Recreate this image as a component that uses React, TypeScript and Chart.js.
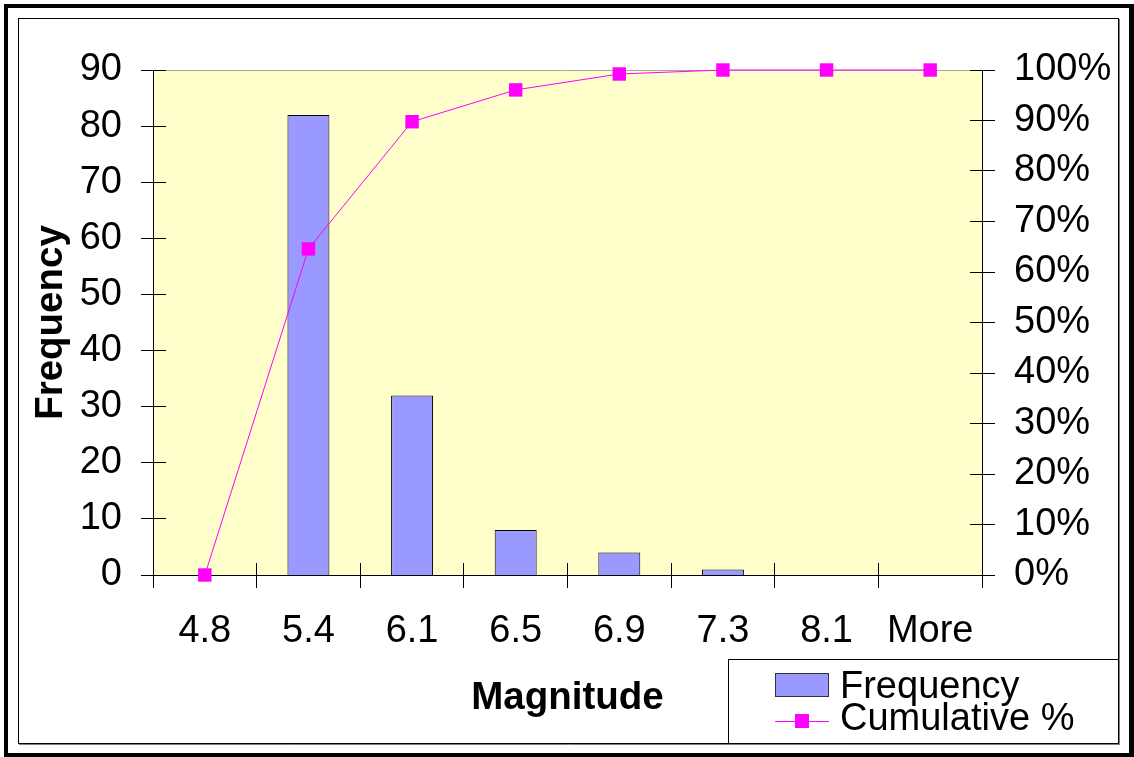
import { useEffect, useRef } from 'react';
import { Chart, registerables } from 'chart.js';

Chart.register(...registerables);

// Histogram bins (upper edges) and counts
const categories = ['4.8', '5.4', '6.1', '6.5', '6.9', '7.3', '8.1', 'More'];
const frequency = [0, 82, 32, 8, 4, 1, 0, 0];
// Running share of all events, in percent
const cumulativePct = [0, 64.57, 89.76, 96.06, 99.21, 100, 100, 100];

const freqAxisMax = 90;
const pctAxisMax = 100;
const axisStep = 10;

const seriesNames = ['Frequency', 'Cumulative %'];
const xTitle = 'Magnitude';
const yTitle = 'Frequency';

const FONT = 'Arial, "Liberation Sans", sans-serif';
const TEXT_SIZE = 38;
const TITLE_SIZE = 38.5;
const W = 1134;
const H = 757;

const crisp = (v: number) => Math.floor(v) + 0.5;

const excelLook = {
  id: 'excelLook',
  beforeDraw(chart: any) {
    const { ctx, chartArea: a } = chart;
    ctx.save();
    ctx.fillStyle = '#ffffff';
    ctx.fillRect(0, 0, chart.width, chart.height);
    ctx.fillStyle = '#FFFFCC';
    ctx.fillRect(a.left, a.top, a.right - a.left, a.bottom - a.top);
    ctx.restore();
  },
  beforeDatasetsDraw(chart: any) {
    const { ctx, chartArea: a, scales } = chart;
    const x = scales.x;
    const y = scales.y;
    const y1 = scales.y1;
    ctx.save();
    ctx.lineWidth = 1;
    // top edge of plot area
    ctx.strokeStyle = '#a8a8a8';
    ctx.beginPath();
    ctx.moveTo(a.left, crisp(a.top));
    ctx.lineTo(a.right, crisp(a.top));
    ctx.stroke();

    ctx.strokeStyle = '#000000';
    ctx.beginPath();
    // axis lines
    ctx.moveTo(crisp(a.left), a.top);
    ctx.lineTo(crisp(a.left), a.bottom);
    ctx.moveTo(crisp(a.right), a.top);
    ctx.lineTo(crisp(a.right), a.bottom);
    ctx.moveTo(a.left - 12, crisp(a.bottom));
    ctx.lineTo(a.right + 13, crisp(a.bottom));
    // left value ticks, crossing the axis
    y.ticks.forEach((t: any) => {
      const py = crisp(y.getPixelForValue(t.value));
      ctx.moveTo(a.left - 12, py);
      ctx.lineTo(a.left + 13, py);
    });
    // right percentage ticks
    y1.ticks.forEach((t: any) => {
      const py = crisp(y1.getPixelForValue(t.value));
      ctx.moveTo(a.right - 12, py);
      ctx.lineTo(a.right + 13, py);
    });
    // category boundary ticks
    const step = x.getPixelForValue(1) - x.getPixelForValue(0);
    for (let i = 0; i <= categories.length; i++) {
      const px = crisp(x.getPixelForValue(i) - step / 2);
      ctx.moveTo(px, a.bottom - 12);
      ctx.lineTo(px, a.bottom + 13);
    }
    ctx.stroke();
    ctx.restore();
  },
  afterDraw(chart: any) {
    const { ctx, chartArea: a } = chart;
    const bar = chart.data.datasets[0];
    const line = chart.data.datasets[1];
    ctx.save();

    // outer heavy frame
    ctx.fillStyle = '#000000';
    ctx.fillRect(4, 4, W - 4, 4);
    ctx.fillRect(4, 4, 4, H - 4);
    ctx.fillRect(W - 5, 4, 5, H - 4);
    ctx.fillRect(4, H - 4, W - 4, 4);

    // inner thin frame with a soft shadow edge
    ctx.lineWidth = 1;
    ctx.strokeStyle = '#000000';
    ctx.strokeRect(18.5, 18.5, 1100, 725);
    ctx.strokeStyle = '#808080';
    ctx.beginPath();
    ctx.moveTo(19, 744.5);
    ctx.lineTo(1120, 744.5);
    ctx.moveTo(1119.5, 19);
    ctx.lineTo(1119.5, 745);
    ctx.stroke();

    // axis titles
    ctx.fillStyle = '#000000';
    ctx.font = `bold ${TITLE_SIZE}px ${FONT}`;
    ctx.textAlign = 'center';
    ctx.textBaseline = 'alphabetic';
    ctx.fillText(xTitle, (a.left + a.right) / 2, 709);
    ctx.save();
    ctx.translate(62, (a.top + a.bottom) / 2);
    ctx.rotate(-Math.PI / 2);
    ctx.fillText(yTitle, 0, 0);
    ctx.restore();

    // legend box
    ctx.fillStyle = '#ffffff';
    ctx.fillRect(728.5, 659.5, 390, 84);
    ctx.strokeStyle = '#000000';
    ctx.strokeRect(728.5, 659.5, 390, 84);

    ctx.fillStyle = bar.backgroundColor;
    ctx.fillRect(775, 673, 54, 24);
    ctx.strokeStyle = '#333333';
    ctx.strokeRect(775.5, 673.5, 53, 23);

    ctx.strokeStyle = line.borderColor;
    ctx.beginPath();
    ctx.moveTo(775, 721.5);
    ctx.lineTo(829, 721.5);
    ctx.stroke();
    ctx.fillStyle = line.pointBackgroundColor;
    ctx.fillRect(795, 714, 14, 14);

    ctx.fillStyle = '#000000';
    ctx.font = `${TEXT_SIZE}px ${FONT}`;
    ctx.textAlign = 'left';
    ctx.fillText(seriesNames[0], 840, 698);
    ctx.fillText(seriesNames[1], 840, 730);
    ctx.restore();
  },
};

export default function App() {
  const ref = useRef<HTMLCanvasElement | null>(null);

  useEffect(() => {
    if (!ref.current) return;
    const chart = new Chart(ref.current, {
      type: 'bar',
      data: {
        labels: categories,
        datasets: [
          {
            type: 'bar',
            label: seriesNames[0],
            data: frequency,
            yAxisID: 'y',
            backgroundColor: '#9999FF',
            borderColor: '#000000',
            borderWidth: 1,
            categoryPercentage: 1,
            barPercentage: 0.405,
            order: 2,
          },
          {
            type: 'line',
            label: seriesNames[1],
            data: cumulativePct,
            yAxisID: 'y1',
            borderColor: '#FF00FF',
            borderWidth: 1,
            backgroundColor: '#FF00FF',
            pointBackgroundColor: '#FF00FF',
            pointBorderColor: '#FF00FF',
            pointBorderWidth: 0,
            pointStyle: 'rect',
            pointRadius: 9.5,
            tension: 0,
            clip: false,
            order: 1,
          },
        ],
      } as any,
      options: {
        responsive: false,
        animation: false,
        devicePixelRatio: 1,
        layout: { padding: { left: 0, right: 0, top: 70, bottom: 0 } },
        plugins: {
          legend: { display: false },
          tooltip: { enabled: false },
          title: { display: false },
        },
        scales: {
          x: {
            type: 'category',
            offset: true,
            grid: { display: false, drawTicks: false },
            border: { display: false },
            ticks: {
              color: '#000000',
              font: { family: FONT, size: TEXT_SIZE },
              padding: 34,
              maxRotation: 0,
              autoSkip: false,
            },
            afterFit(scale: any) {
              scale.height = H - 575;
            },
          },
          y: {
            position: 'left',
            min: 0,
            max: freqAxisMax,
            grid: { display: false, drawTicks: false },
            border: { display: false },
            ticks: {
              stepSize: axisStep,
              color: '#000000',
              font: { family: FONT, size: TEXT_SIZE },
              padding: 31,
            },
            afterFit(scale: any) {
              scale.width = 153;
            },
          },
          y1: {
            position: 'right',
            min: 0,
            max: pctAxisMax,
            grid: { display: false, drawTicks: false },
            border: { display: false },
            ticks: {
              stepSize: axisStep,
              color: '#000000',
              font: { family: FONT, size: TEXT_SIZE },
              padding: 32,
              callback: (v: any) => `${v}%`,
            },
            afterFit(scale: any) {
              scale.width = W - 982;
            },
          },
        },
      } as any,
      plugins: [excelLook],
    });
    return () => chart.destroy();
  }, []);

  return (
    <div style={{ position: 'fixed', left: 0, top: 0, width: W, height: H, background: '#fff' }}>
      <canvas ref={ref} width={W} height={H} style={{ display: 'block' }} />
    </div>
  );
}
